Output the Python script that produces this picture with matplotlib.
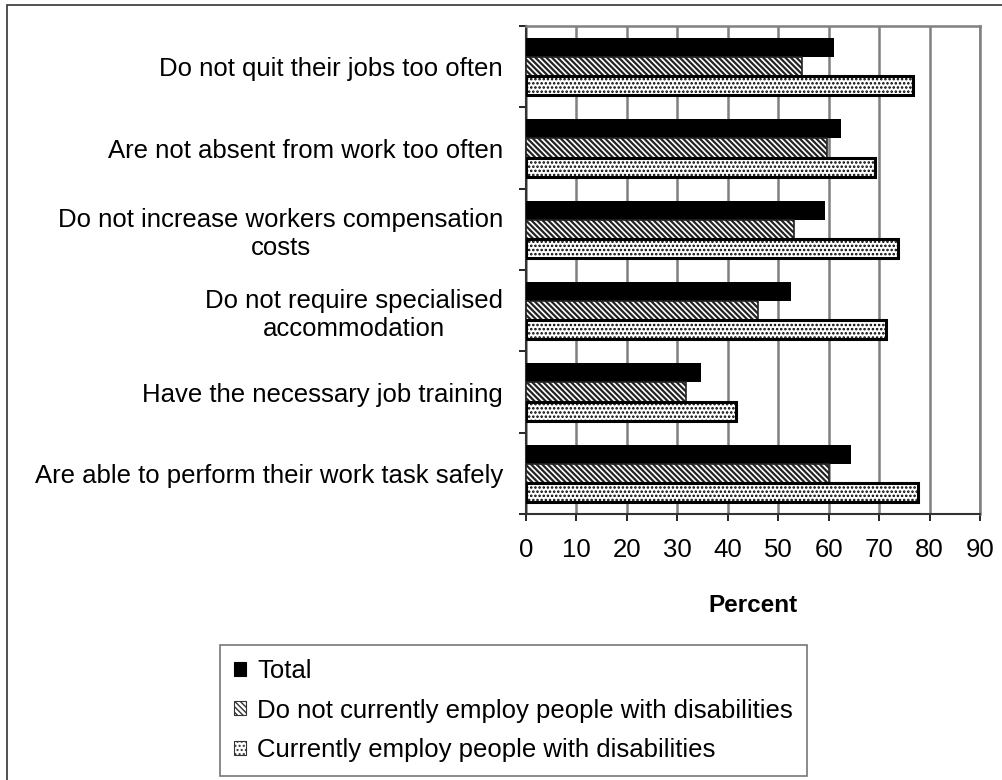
import matplotlib.pyplot as plt
import numpy as np
from matplotlib.patches import Patch, Rectangle

# data, top to bottom as shown in the chart
categories = [
    "Do not quit their jobs too often",
    "Are not absent from work too often",
    "Do not increase workers compensation\ncosts",
    "Do not require specialised\naccommodation",
    "Have the necessary job training",
    "Are able to perform their work task safely",
]
total = [61.0, 62.4, 59.3, 52.5, 34.7, 64.4]
not_employ = [54.8, 59.6, 53.2, 46.0, 31.7, 60.0]
employ = [76.7, 69.1, 73.8, 71.4, 41.7, 77.8]
series_names = [
    "Total",
    "Do not currently employ people with disabilities",
    "Currently employ people with disabilities",
]
xticks = list(range(0, 100, 10))


def main() -> None:
    plt.rcParams["font.family"] = ["Liberation Sans", "DejaVu Sans"]
    fs = 18.5

    fig = plt.figure(figsize=(10.02, 7.8), dpi=100)
    ax = fig.add_axes([526 / 1002, 1 - 514 / 780, 454 / 1002, 488 / 780])

    y = np.arange(len(categories))
    h = 0.235
    ax.barh(y - h, total, height=h, color="black", linewidth=0, zorder=3)
    plt.rcParams["hatch.linewidth"] = 1.6
    ax.barh(y, not_employ, height=h, facecolor="white", edgecolor="#222222",
            hatch="\\\\\\\\\\\\", linewidth=1.2, zorder=3)
    plt.rcParams["hatch.linewidth"] = 1.2
    ax.barh(y + h, employ, height=h, facecolor="white", edgecolor="black",
            hatch="....", linewidth=2.2, zorder=3)

    ax.set_xlim(0, 90)
    ax.set_ylim(len(categories) - 0.5, -0.5)
    ax.set_xticks(xticks)
    ax.set_xticklabels([str(t) for t in xticks], fontsize=fs)
    ax.tick_params(axis="x", length=5, width=1.2, pad=12, direction="out")
    ax.set_yticks(y)
    ax.set_yticklabels(categories, fontsize=fs, multialignment="center")
    ax.set_yticks(np.arange(-0.5, len(categories), 1.0), minor=True)
    ax.tick_params(axis="y", which="major", length=0, pad=16.5)
    ax.tick_params(axis="y", which="minor", length=5, width=1.2, direction="out")

    ax.xaxis.grid(True, color="#808080", linewidth=1.8, zorder=0)
    ax.set_axisbelow(True)
    for side in ("top", "right"):
        ax.spines[side].set_color("#808080")
        ax.spines[side].set_linewidth(1.8)
    for side in ("left", "bottom"):
        ax.spines[side].set_color("#333333")
        ax.spines[side].set_linewidth(1.5)

    ax.set_xlabel("Percent", fontsize=17.5, fontweight="bold", labelpad=23)

    plt.rcParams["hatch.linewidth"] = 1.0
    handles = [
        Patch(facecolor="black", edgecolor="black", linewidth=0.8),
        Patch(facecolor="white", edgecolor="#333333", hatch="\\\\\\\\\\\\", linewidth=0.8),
        Patch(facecolor="white", edgecolor="#333333", hatch="....", linewidth=0.8),
    ]
    leg = fig.legend(handles, series_names, loc="upper left",
                     bbox_to_anchor=(220 / 1002, 1 - 645 / 780),
                     fontsize=18.5, frameon=True, fancybox=False,
                     handlelength=0.45, handleheight=0.45, handletextpad=0.45,
                     labelspacing=0.6, borderpad=0.55, borderaxespad=0)
    leg.get_frame().set_edgecolor("#555555")
    leg.get_frame().set_linewidth(1.2)

    # outer chart frame (only top and left edges fall inside the picture)
    fig.patches.append(Rectangle((7 / 1002, -0.2), 1.5, 1.2 - 5 / 780,
                                 transform=fig.transFigure, fill=False,
                                 edgecolor="#333333", linewidth=1.2))

    fig.savefig("out.png", dpi=100)
    plt.close(fig)


if __name__ == "__main__":
    main()
